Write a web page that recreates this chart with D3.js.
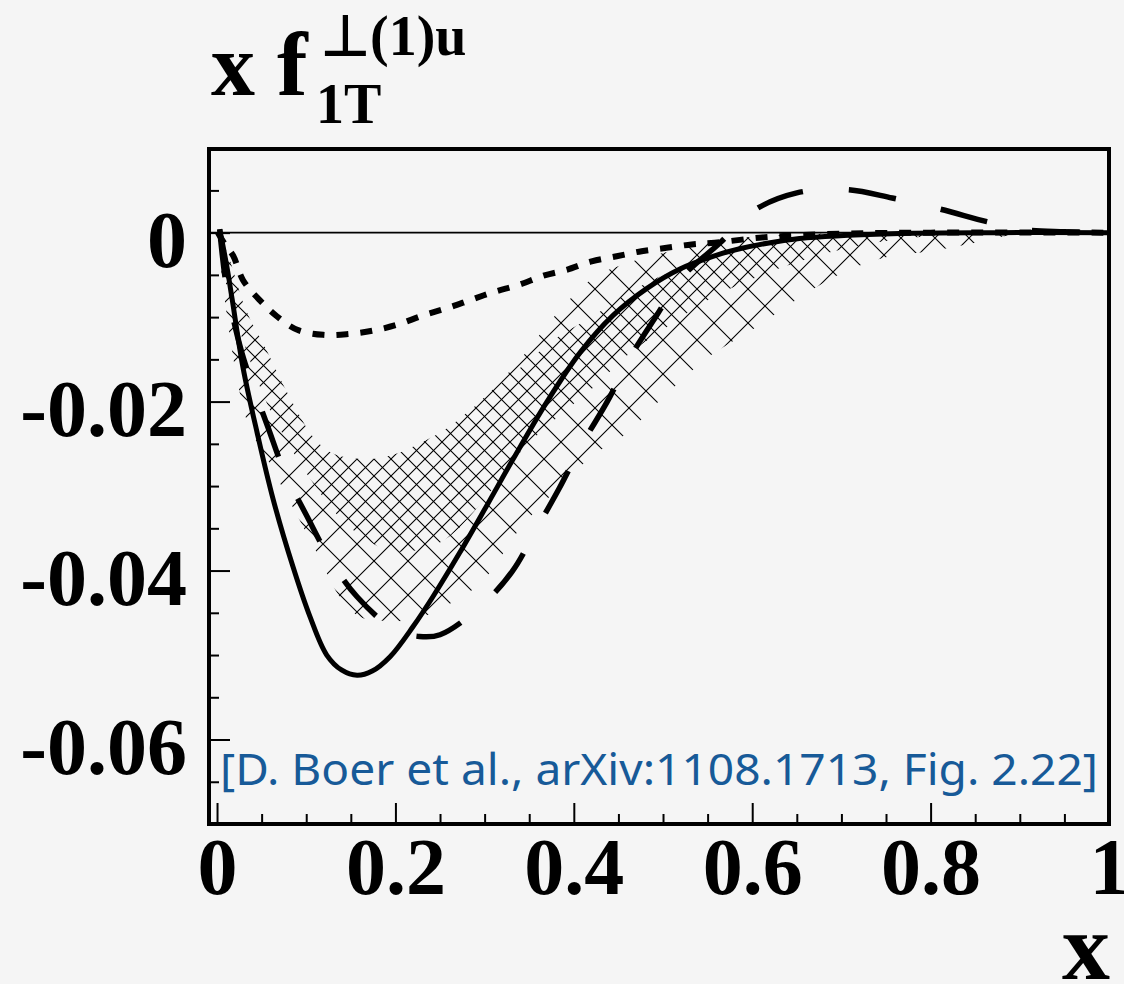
<!DOCTYPE html>
<html>
<head>
<meta charset="utf-8">
<script src="https://cdn.jsdelivr.net/npm/d3@7"></script>
<style>
  html, body { margin: 0; padding: 0; background: #f5f5f5; }
  svg { display: block; }
  .serif { font-family: "Liberation Serif", "Times New Roman", serif; font-weight: bold; fill: #000; }
</style>
</head>
<body>
<div id="chart"></div>
<script>
// solid curve
const solidX = [0.003, 0.011, 0.017, 0.029, 0.045, 0.063, 0.085, 0.104, 0.123, 0.14, 0.157, 0.174, 0.194, 0.22, 0.242, 0.272, 0.303, 0.332, 0.37, 0.407, 0.444, 0.482, 0.519, 0.556, 0.586, 0.653, 0.765, 0.877, 1.0];
const solidY = [0.0004, -0.0040, -0.0079, -0.0159, -0.0237, -0.0316, -0.0395, -0.0454, -0.0500, -0.0518, -0.0524, -0.0519, -0.0502, -0.0466, -0.0431, -0.0379, -0.0322, -0.0268, -0.0200, -0.0142, -0.0098, -0.0066, -0.0043, -0.0028, -0.0019, -0.0007, -0.0001, 0, 0];

// long dashed curve
const dashX = [0.003, 0.01, 0.02, 0.03, 0.039, 0.057, 0.076, 0.101, 0.127, 0.157, 0.199, 0.227, 0.25, 0.295, 0.331, 0.359, 0.384, 0.41, 0.437, 0.463, 0.491, 0.522, 0.564, 0.60, 0.65, 0.706, 0.757, 0.81, 0.863, 0.9, 0.95, 1.0];
const dashY = [0.0004, -0.0060, -0.0110, -0.0150, -0.0178, -0.0230, -0.0284, -0.0336, -0.0387, -0.0431, -0.0470, -0.0478, -0.0476, -0.0443, -0.0401, -0.0349, -0.0302, -0.0249, -0.0201, -0.0148, -0.0101, -0.0052, -0.0012, 0.0025, 0.0047, 0.0051, 0.0041, 0.0028, 0.0013, 0.0004, 0.0001, 0];

// short dashed curve
const dotX = [0.001, 0.009, 0.018, 0.029, 0.047, 0.067, 0.09, 0.119, 0.147, 0.175, 0.202, 0.231, 0.259, 0.286, 0.311, 0.338, 0.366, 0.392, 0.42, 0.448, 0.476, 0.504, 0.532, 0.558, 0.608, 0.653, 0.709, 0.8, 1.0];
const dotY = [0, -0.0014, -0.0027, -0.0056, -0.0079, -0.0099, -0.0115, -0.0121, -0.0120, -0.0116, -0.0109, -0.0098, -0.0089, -0.0079, -0.0070, -0.0062, -0.0051, -0.0044, -0.0034, -0.0028, -0.0022, -0.0018, -0.0014, -0.0012, -0.0006, -0.0003, -0.0001, 0, 0];

// hatched bands
const bandX = [0, 0.01, 0.03, 0.055, 0.08, 0.11, 0.14, 0.17, 0.20, 0.23, 0.26, 0.30, 0.34, 0.38, 0.42, 0.46, 0.50, 0.55, 0.60, 0.65, 0.70, 0.75, 0.80, 0.85, 0.90];
const bandAUpper = [0, -0.002, -0.0085, -0.0138, -0.0192, -0.0245, -0.0265, -0.0268, -0.0262, -0.0248, -0.0230, -0.0195, -0.0150, -0.0097, -0.0055, -0.0036, -0.0024, -0.0011, -0.0005, -0.0002, -0.0001, 0, 0, 0, 0];
const bandALower = [0, -0.006, -0.013, -0.020, -0.025, -0.030, -0.034, -0.0365, -0.0378, -0.0375, -0.0360, -0.0315, -0.0260, -0.0220, -0.0185, -0.0145, -0.0115, -0.0080, -0.0055, -0.0035, -0.0020, -0.0010, -0.0004, -0.0001, 0];
const bandBUpper = [0, -0.002, -0.0085, -0.0138, -0.0192, -0.0245, -0.0265, -0.0268, -0.0262, -0.0248, -0.0230, -0.0195, -0.0160, -0.0125, -0.0100, -0.0072, -0.0050, -0.0030, -0.0018, -0.0010, -0.0005, -0.0002, -0.0001, 0, 0];
const bandBLower = [0, -0.009, -0.021, -0.0265, -0.0315, -0.0375, -0.0435, -0.0458, -0.0460, -0.0455, -0.0440, -0.0410, -0.0350, -0.0305, -0.0265, -0.0237, -0.0195, -0.0148, -0.0115, -0.0079, -0.0048, -0.0029, -0.0022, -0.0012, 0];

// ticks
const xMajorTicks = [0, 0.2, 0.4, 0.6, 0.8, 1];
const xMinorTicks = [0.05, 0.1, 0.15, 0.25, 0.3, 0.35, 0.45, 0.5, 0.55, 0.65, 0.7, 0.75, 0.85, 0.9, 0.95];
const yMajorTicks = [0, -0.02, -0.04, -0.06];
const yMinorTicks = [0.005, -0.005, -0.01, -0.015, -0.025, -0.03, -0.035, -0.045, -0.05, -0.055, -0.065];

const note = "[D. Boer et al., arXiv:1108.1713, Fig. 2.22]";

const W = 1124, H = 984;
const margin = {top: 149, right: 15, bottom: 160, left: 209};

const svg = d3.select("#chart").append("svg")
    .attr("width", W)
    .attr("height", H);

svg.append("rect").attr("width", W).attr("height", H).attr("fill", "#f5f5f5");

const x = d3.scaleLinear().domain([-0.009, 1.0]).range([margin.left, W - margin.right]);
const y = d3.scaleLinear().domain([-0.0700, 0.0099]).range([H - margin.bottom, margin.top]);

const defs = svg.append("defs");
defs.append("clipPath").attr("id", "plotClip")
    .append("rect")
    .attr("x", x.range()[0]).attr("y", y.range()[1])
    .attr("width", x.range()[1] - x.range()[0])
    .attr("height", y.range()[0] - y.range()[1]);

// cross hatch patterns, second one shifted half a tile
const tile = 34;
function hatch(id, shift) {
    const p = defs.append("pattern")
        .attr("id", id)
        .attr("patternUnits", "userSpaceOnUse")
        .attr("width", tile).attr("height", tile)
        .attr("patternTransform", `translate(${shift},0)`);
    p.append("path")
        .attr("d", `M-1,-1L${tile + 1},${tile + 1}M${tile + 1},-1L-1,${tile + 1}`)
        .attr("stroke", "#000")
        .attr("stroke-width", 1.1)
        .attr("fill", "none");
}
hatch("hatchA", 0);
hatch("hatchB", tile / 2);

const plot = svg.append("g").attr("clip-path", "url(#plotClip)");

const area = (up, lo) => d3.area()
    .x((d, i) => x(bandX[i]))
    .y0((d, i) => y(lo[i]))
    .y1((d, i) => y(up[i]))
    .curve(d3.curveMonotoneX)(bandX);

plot.append("path").attr("d", area(bandAUpper, bandALower)).attr("fill", "url(#hatchA)");
plot.append("path").attr("d", area(bandBUpper, bandBLower)).attr("fill", "url(#hatchB)");

// zero line
plot.append("line")
    .attr("x1", x.range()[0]).attr("x2", x.range()[1])
    .attr("y1", y(0)).attr("y2", y(0))
    .attr("stroke", "#000").attr("stroke-width", 1.8);

const line = (xs, ys) => d3.line()
    .x((d, i) => x(xs[i]))
    .y((d, i) => y(ys[i]))
    .curve(d3.curveCatmullRom.alpha(0.5))(xs);

plot.append("path")
    .attr("d", line(dotX, dotY))
    .attr("fill", "none").attr("stroke", "#000")
    .attr("stroke-width", 6)
    .attr("stroke-dasharray", "12,12");

plot.append("path")
    .attr("d", line(dashX, dashY))
    .attr("fill", "none").attr("stroke", "#000")
    .attr("stroke-width", 5.5)
    .attr("stroke-dasharray", "48,46");

plot.append("path")
    .attr("d", line(solidX, solidY))
    .attr("fill", "none").attr("stroke", "#000")
    .attr("stroke-width", 5);

// axes ticks (inside)
const xAxisG = svg.append("g").attr("transform", `translate(0,${y.range()[0]})`);
xAxisG.call(d3.axisBottom(x).tickValues(xMinorTicks).tickSize(-10).tickFormat(""));
const xMajG = svg.append("g").attr("transform", `translate(0,${y.range()[0]})`);
xMajG.call(d3.axisBottom(x).tickValues(xMajorTicks).tickSize(-21)
    .tickFormat(d => String(+d.toFixed(1))));

const yAxisG = svg.append("g").attr("transform", `translate(${x.range()[0]},0)`);
yAxisG.call(d3.axisLeft(y).tickValues(yMinorTicks).tickSize(-10).tickFormat(""));
const yMajG = svg.append("g").attr("transform", `translate(${x.range()[0]},0)`);
yMajG.call(d3.axisLeft(y).tickValues(yMajorTicks).tickSize(-21)
    .tickFormat(d => d === 0 ? "0" : d.toFixed(2)));

svg.selectAll(".domain").remove();
svg.selectAll(".tick line").attr("stroke", "#000").attr("stroke-width", 2);

xMajG.selectAll(".tick text")
    .attr("class", "serif")
    .attr("y", 70).attr("dy", null)
    .style("font-size", "80px");

yMajG.selectAll(".tick text")
    .attr("class", "serif")
    .attr("x", -22).attr("dy", "0.37em")
    .attr("y", 4)
    .style("font-size", "80px");

// frame
svg.append("rect")
    .attr("x", x.range()[0]).attr("y", y.range()[1])
    .attr("width", x.range()[1] - x.range()[0])
    .attr("height", y.range()[0] - y.range()[1])
    .attr("fill", "none").attr("stroke", "#000").attr("stroke-width", 4);

// reference note
svg.append("text")
    .attr("x", 220).attr("y", 785)
    .attr("textLength", 878).attr("lengthAdjust", "spacingAndGlyphs")
    .style("font-family", "'Comic Sans MS', 'Noto Sans', sans-serif")
    .style("font-size", "44px")
    .style("fill", "#175a98")
    .text(note);

// y title
const title = svg.append("g").attr("class", "serif");
title.append("text").attr("class", "serif").attr("x", 211).attr("y", 95).style("font-size", "88px").text("x");
title.append("text").attr("class", "serif").attr("x", 277).attr("y", 95).style("font-size", "92px").text("f");
title.append("text").attr("class", "serif").attr("x", 321).attr("y", 55).style("font-size", "56px").text("⊥(1)u");
title.append("text").attr("class", "serif").attr("x", 316).attr("y", 123).style("font-size", "56px").text("1T");

// x title
svg.append("text").attr("class", "serif")
    .attr("x", 1110).attr("y", 979)
    .attr("text-anchor", "end")
    .style("font-size", "96px")
    .text("x");
</script>
</body>
</html>
